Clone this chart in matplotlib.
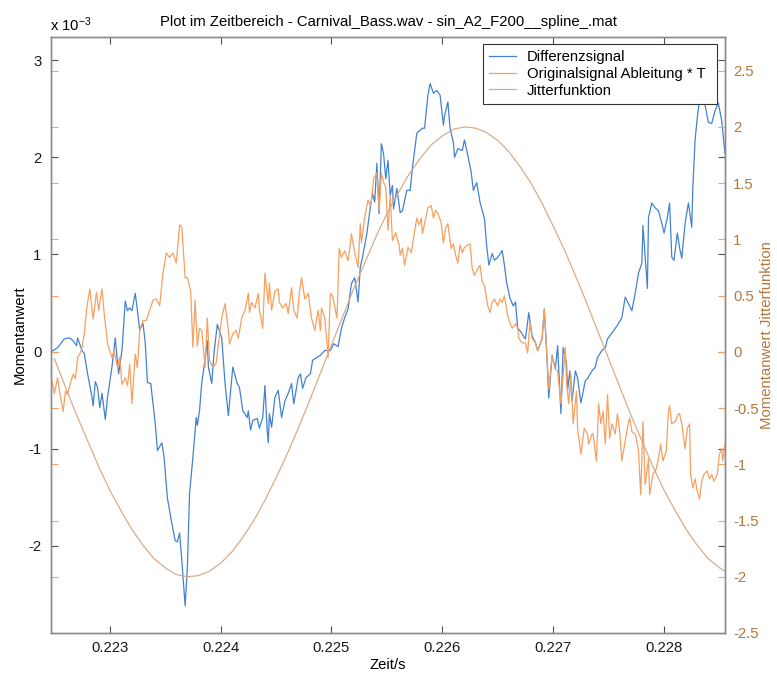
import numpy as np
import matplotlib
matplotlib.use('Agg')
import matplotlib.pyplot as plt
from matplotlib.ticker import FuncFormatter


# Differenzsignal (left axis, values in 1e-3)
t_diff = [
    0.22246, 0.22253, 0.22259, 0.22264, 0.22267, 0.22270, 0.22271, 0.22275, 0.22277, 0.22280,
    0.22284, 0.22285, 0.22287, 0.22289, 0.22291, 0.22293, 0.22295, 0.22296, 0.22298, 0.22302,
    0.22305, 0.22306, 0.22308, 0.22311, 0.22314, 0.22316, 0.22318, 0.22320, 0.22323, 0.22325,
    0.22327, 0.22330, 0.22332, 0.22334, 0.22337, 0.22341, 0.22343, 0.22347, 0.22349, 0.22352,
    0.22356, 0.22359, 0.22361, 0.22363, 0.22365, 0.22368, 0.22370, 0.22372, 0.22375, 0.22378,
    0.22379, 0.22381, 0.22383, 0.22385, 0.22388, 0.22389, 0.22392, 0.22394, 0.22397, 0.22401,
    0.22404, 0.22407, 0.22411, 0.22415, 0.22417, 0.22420, 0.22424, 0.22425, 0.22427, 0.22429,
    0.22433, 0.22435, 0.22438, 0.22440, 0.22442, 0.22443, 0.22444, 0.22446, 0.22449, 0.22452,
    0.22455, 0.22458, 0.22461, 0.22464, 0.22466, 0.22470, 0.22472, 0.22474, 0.22477, 0.22481,
    0.22483, 0.22487, 0.22490, 0.22494, 0.22499, 0.22502, 0.22506, 0.22509, 0.22512, 0.22515,
    0.22518, 0.22521, 0.22524, 0.22526, 0.22528, 0.22532, 0.22535, 0.22537, 0.22539, 0.22541,
    0.22543, 0.22545, 0.22547, 0.22549, 0.22551, 0.22553, 0.22555, 0.22556, 0.22559, 0.22562,
    0.22564, 0.22568, 0.22571, 0.22573, 0.22577, 0.22582, 0.22584, 0.22587, 0.22589, 0.22592,
    0.22595, 0.22598, 0.22601, 0.22602, 0.22605, 0.22607, 0.22610, 0.22611, 0.22614, 0.22618,
    0.22620, 0.22623, 0.22626, 0.22628, 0.22631, 0.22634, 0.22638, 0.22640, 0.22642, 0.22645,
    0.22647, 0.22650, 0.22654, 0.22656, 0.22658, 0.22661, 0.22664, 0.22666, 0.22668, 0.22671,
    0.22673, 0.22675, 0.22678, 0.22681, 0.22684, 0.22686, 0.22690, 0.22692, 0.22694, 0.22696,
    0.22699, 0.22702, 0.22704, 0.22707, 0.22709, 0.22712, 0.22713, 0.22715, 0.22717, 0.22720,
    0.22722, 0.22725, 0.22729, 0.22731, 0.22735, 0.22738, 0.22740, 0.22744, 0.22747, 0.22749,
    0.22753, 0.22756, 0.22758, 0.22762, 0.22765, 0.22768, 0.22771, 0.22774, 0.22777, 0.22780,
    0.22781, 0.22783, 0.22785, 0.22786, 0.22789, 0.22792, 0.22795, 0.22798, 0.22800, 0.22803,
    0.22805, 0.22807, 0.22809, 0.22812, 0.22814, 0.22816, 0.22819, 0.22822, 0.22823, 0.22825,
    0.22826, 0.22828, 0.22830, 0.22832, 0.22835, 0.22840, 0.22843, 0.22846, 0.22849, 0.22852,
    0.22855,
]
diff_e3 = [
    -0.01, 0.04, 0.13, 0.14, 0.11, 0.06, 0.14, 0.01, -0.02, -0.23,
    -0.47, -0.56, -0.31, -0.37, -0.58, -0.43, -0.61, -0.70, -0.47, -0.16,
    0.14, 0.01, -0.23, 0.01, 0.52, 0.42, 0.45, 0.42, 0.60, 0.42,
    0.22, 0.29, 0.09, -0.32, -0.33, -0.74, -1.02, -0.94, -1.09, -1.51,
    -1.77, -1.95, -1.96, -1.87, -2.15, -2.62, -2.23, -1.46, -1.09, -0.68,
    -0.76, -0.61, -0.32, -0.16, 0.11, -0.16, -0.33, -0.02, 0.28, 0.14,
    -0.33, -0.66, -0.16, -0.33, -0.37, -0.61, -0.68, -0.61, -0.81, -0.71,
    -0.69, -0.79, -0.68, -0.35, -0.81, -0.94, -0.64, -0.78, -0.47, -0.40,
    -0.68, -0.51, -0.43, -0.33, -0.54, -0.27, -0.23, -0.38, -0.27, -0.23,
    -0.09, -0.06, -0.04, 0.01, 0.01, 0.08, 0.05, 0.24, 0.35, 0.44,
    0.70, 0.76, 0.51, 0.87, 0.97, 1.22, 1.48, 1.63, 1.54, 1.94,
    1.42, 2.14, 2.04, 1.78, 1.97, 1.61, 1.71, 1.47, 1.68, 1.43,
    1.45, 1.66, 1.66, 1.89, 2.25, 2.30, 2.30, 2.64, 2.76, 2.66,
    2.69, 2.64, 2.33, 2.43, 2.57, 2.30, 2.15, 2.00, 2.09, 2.07,
    2.18, 2.02, 1.85, 1.66, 1.74, 1.54, 1.37, 1.09, 0.89, 1.01,
    0.94, 0.97, 1.04, 0.89, 0.71, 0.55, 0.47, 0.51, 0.24, 0.20,
    0.16, 0.13, 0.40, 0.16, 0.09, 0.01, 0.13, 0.44, 0.03, -0.48,
    -0.04, -0.18, 0.06, -0.64, 0.04, -0.12, -0.40, -0.20, -0.51, -0.20,
    -0.27, -0.53, -0.30, -0.28, -0.20, -0.16, -0.06, 0.01, 0.04, 0.13,
    0.19, 0.24, 0.27, 0.35, 0.56, 0.49, 0.42, 0.60, 0.81, 0.91,
    1.30, 0.97, 0.65, 1.38, 1.53, 1.48, 1.45, 1.32, 1.22, 1.38,
    1.53, 0.97, 0.94, 1.22, 1.07, 0.96, 1.32, 1.53, 1.45, 1.28,
    1.69, 2.18, 2.41, 2.59, 2.66, 2.36, 2.35, 2.48, 2.56, 2.38,
    2.04,
]

# Originalsignal Ableitung * T (right axis)
t_orig = [
    0.22246, 0.22248, 0.22250, 0.22253, 0.22255, 0.22258, 0.22260, 0.22262, 0.22265, 0.22267,
    0.22269, 0.22271, 0.22273, 0.22275, 0.22277, 0.22279, 0.22282, 0.22285, 0.22288, 0.22290,
    0.22293, 0.22295, 0.22298, 0.22302, 0.22304, 0.22307, 0.22309, 0.22311, 0.22314, 0.22316,
    0.22318, 0.22320, 0.22323, 0.22325, 0.22327, 0.22330, 0.22333, 0.22336, 0.22339, 0.22342,
    0.22345, 0.22348, 0.22351, 0.22354, 0.22357, 0.22360, 0.22363, 0.22365, 0.22368, 0.22370,
    0.22373, 0.22375, 0.22377, 0.22379, 0.22381, 0.22383, 0.22386, 0.22388, 0.22390, 0.22393,
    0.22396, 0.22398, 0.22401, 0.22404, 0.22407, 0.22408, 0.22411, 0.22414, 0.22416, 0.22419,
    0.22422, 0.22425, 0.22426, 0.22428, 0.22431, 0.22434, 0.22435, 0.22438, 0.22440, 0.22443,
    0.22444, 0.22446, 0.22449, 0.22452, 0.22453, 0.22456, 0.22459, 0.22461, 0.22464, 0.22466,
    0.22469, 0.22471, 0.22473, 0.22476, 0.22479, 0.22482, 0.22485, 0.22488, 0.22490, 0.22491,
    0.22494, 0.22497, 0.22499, 0.22501, 0.22505, 0.22507, 0.22509, 0.22512, 0.22515, 0.22517,
    0.22518, 0.22521, 0.22524, 0.22526, 0.22527, 0.22530, 0.22533, 0.22535, 0.22536, 0.22538,
    0.22541, 0.22543, 0.22545, 0.22547, 0.22549, 0.22551, 0.22553, 0.22555, 0.22558, 0.22561,
    0.22562, 0.22564, 0.22566, 0.22569, 0.22572, 0.22574, 0.22577, 0.22579, 0.22581, 0.22582,
    0.22585, 0.22587, 0.22590, 0.22592, 0.22594, 0.22596, 0.22599, 0.22601, 0.22603, 0.22605,
    0.22608, 0.22610, 0.22612, 0.22614, 0.22616, 0.22618, 0.22620, 0.22623, 0.22625, 0.22627,
    0.22629, 0.22632, 0.22634, 0.22636, 0.22638, 0.22641, 0.22643, 0.22645, 0.22647, 0.22650,
    0.22652, 0.22654, 0.22656, 0.22659, 0.22661, 0.22663, 0.22666, 0.22668, 0.22669, 0.22672,
    0.22675, 0.22677, 0.22679, 0.22681, 0.22684, 0.22686, 0.22690, 0.22692, 0.22694, 0.22696,
    0.22699, 0.22702, 0.22704, 0.22707, 0.22711, 0.22712, 0.22714, 0.22716, 0.22718, 0.22721,
    0.22722, 0.22725, 0.22728, 0.22731, 0.22732, 0.22735, 0.22736, 0.22739, 0.22741, 0.22743,
    0.22745, 0.22747, 0.22749, 0.22751, 0.22753, 0.22756, 0.22758, 0.22760, 0.22762, 0.22765,
    0.22768, 0.22769, 0.22771, 0.22774, 0.22777, 0.22778, 0.22779, 0.22781, 0.22783, 0.22786,
    0.22787, 0.22790, 0.22793, 0.22795, 0.22797, 0.22799, 0.22802, 0.22804, 0.22805, 0.22807,
    0.22810, 0.22813, 0.22814, 0.22816, 0.22819, 0.22821, 0.22823, 0.22824, 0.22826, 0.22828,
    0.22830, 0.22832, 0.22834, 0.22836, 0.22839, 0.22841, 0.22843, 0.22845, 0.22848, 0.22850,
    0.22852, 0.22853, 0.22855,
]
orig_deriv = [
    -0.44, -0.26, -0.37, -0.23, -0.37, -0.53, -0.35, -0.38, -0.26, -0.20,
    -0.24, -0.05, -0.02, 0.04, 0.16, 0.37, 0.56, 0.29, 0.53, 0.37,
    0.56, 0.34, 0.07, -0.05, 0.01, -0.14, -0.05, -0.29, -0.23, -0.30,
    -0.11, -0.46, -0.02, -0.14, 0.19, 0.28, 0.28, 0.37, 0.46, 0.47,
    0.41, 0.70, 0.88, 0.84, 0.88, 0.79, 1.13, 1.11, 0.66, 0.66,
    0.54, 0.04, 0.46, 0.05, 0.21, 0.19, -0.14, 0.30, -0.08, -0.14,
    -0.10, 0.07, 0.30, 0.43, 0.19, 0.07, 0.16, 0.19, 0.12, 0.30,
    0.37, 0.52, 0.35, 0.44, 0.39, 0.52, 0.37, 0.21, 0.70, 0.43,
    0.61, 0.37, 0.54, 0.56, 0.44, 0.39, 0.43, 0.34, 0.57, 0.37,
    0.30, 0.52, 0.66, 0.47, 0.52, 0.30, 0.19, 0.37, 0.19, 0.39,
    0.30, -0.05, 0.52, 0.50, 0.30, 0.92, 0.84, 0.90, 0.81, 0.96,
    1.05, 0.88, 0.75, 1.14, 0.97, 1.20, 1.35, 1.30, 1.33, 1.54,
    1.59, 1.26, 1.59, 1.51, 1.46, 1.08, 1.39, 0.99, 1.06, 0.95,
    0.86, 0.92, 0.77, 0.93, 0.88, 1.01, 1.19, 1.13, 1.19, 1.05,
    1.19, 1.28, 1.30, 1.19, 1.26, 1.23, 1.15, 0.97, 1.10, 1.14,
    0.92, 0.96, 0.86, 0.79, 0.95, 0.88, 0.93, 0.95, 0.96, 0.74,
    0.68, 0.74, 0.77, 0.62, 0.59, 0.41, 0.35, 0.44, 0.47, 0.41,
    0.47, 0.44, 0.50, 0.32, 0.26, 0.21, 0.25, 0.21, 0.12, 0.08,
    0.08, -0.01, 0.26, 0.12, 0.08, 0.01, 0.12, 0.38, 0.03, -0.33,
    -0.04, -0.15, -0.17, -0.46, 0.04, -0.26, -0.46, -0.20, -0.64, -0.35,
    -0.68, -0.91, -0.68, -0.73, -0.82, -0.73, -0.73, -0.97, -0.46, -0.64,
    -0.53, -0.82, -0.38, -0.77, -0.64, -0.73, -0.55, -0.71, -0.97, -0.79,
    -0.62, -0.59, -0.71, -0.73, -0.88, -1.09, -1.27, -0.62, -1.18, -0.95,
    -1.27, -1.09, -1.04, -0.95, -0.82, -0.97, -0.88, -0.53, -0.48, -0.64,
    -0.62, -0.55, -0.55, -0.64, -0.86, -0.68, -0.64, -1.09, -1.21, -1.13,
    -1.24, -1.31, -1.15, -1.09, -1.06, -1.13, -1.09, -1.15, -1.09, -0.91,
    -0.86, -0.97, -0.82,
]

# Jitterfunktion (right axis)
t_jitter = [
    0.2225, 0.2226, 0.2227, 0.2228, 0.2229, 0.2230, 0.2231, 0.2232, 0.2233, 0.2234,
    0.2235, 0.2236, 0.2237, 0.2238, 0.2239, 0.2240, 0.2241, 0.2242, 0.2243, 0.2244,
    0.2245, 0.2246, 0.2247, 0.2248, 0.2249, 0.2250, 0.2251, 0.2252, 0.2253, 0.2254,
    0.2255, 0.2256, 0.2257, 0.2258, 0.2259, 0.2260, 0.2261, 0.2262, 0.2263, 0.2264,
    0.2265, 0.2266, 0.2267, 0.2268, 0.2269, 0.2270, 0.2271, 0.2272, 0.2273, 0.2274,
    0.2275, 0.2276, 0.2277, 0.2278, 0.2279, 0.2280, 0.2281, 0.2282, 0.2283, 0.2284,
    0.2285, 0.2286,
]
jitter = [
    -0.06, -0.31, -0.56, -0.79, -1.02, -1.23, -1.41, -1.58, -1.72, -1.84,
    -1.92, -1.98, -2.00, -1.99, -1.95, -1.88, -1.78, -1.65, -1.50, -1.32,
    -1.12, -0.91, -0.68, -0.44, -0.19, 0.06, 0.31, 0.56, 0.79, 1.02,
    1.23, 1.41, 1.58, 1.72, 1.84, 1.92, 1.98, 2.00, 1.99, 1.95,
    1.88, 1.78, 1.65, 1.50, 1.32, 1.12, 0.91, 0.68, 0.44, 0.19,
    -0.06, -0.31, -0.56, -0.79, -1.02, -1.23, -1.41, -1.58, -1.72, -1.84,
    -1.92, -1.98,
]

x_ticks = [0.223, 0.224, 0.225, 0.226, 0.227, 0.228]
left_ticks = [-2e-3, -1e-3, 0.0, 1e-3, 2e-3, 3e-3]
right_ticks = [-2.5, -2, -1.5, -1, -0.5, 0, 0.5, 1, 1.5, 2, 2.5]

plt.rcParams['font.family'] = ['Liberation Sans', 'DejaVu Sans']
plt.rcParams['font.size'] = 10.7

c_blue = '#4382cf'
c_orange = '#f7a060'
c_jitter = '#d6a884'
c_right = '#b5763c'
c_spine = '#8a8a8a'

fig = plt.figure(figsize=(7.77, 6.74), dpi=100)
ax = fig.add_axes([51 / 777, 41 / 674, 674 / 777, 596 / 674])
ax2 = ax.twinx()

l1, = ax.plot(t_diff, np.array(diff_e3) * 1e-3, color=c_blue, lw=0.9)
l2, = ax2.plot(t_orig, orig_deriv, color=c_orange, lw=0.9)
l3, = ax2.plot(t_jitter, jitter, color=c_jitter, lw=0.85)

ax.set_xlim(0.22247, 0.22855)
ax.set_ylim(-2.9e-3, 3.24e-3)
ax2.set_ylim(-2.5, 2.8)

ax.set_xticks(x_ticks)
ax.xaxis.set_major_formatter(FuncFormatter(lambda v, p: '%.3f' % v))
ax.set_yticks(left_ticks)
ax.yaxis.set_major_formatter(FuncFormatter(lambda v, p: '%g' % round(v * 1e3, 6)))
ax2.set_yticks(right_ticks)
ax2.yaxis.set_major_formatter(FuncFormatter(lambda v, p: '%g' % v))

ax.tick_params(axis='both', direction='in', length=5, width=0.8,
               color='#4d4d4d', labelcolor='#1a1a1a', top=True, right=True)
ax.tick_params(axis='x', pad=6)
ax.tick_params(axis='y', pad=7)
ax2.tick_params(axis='y', direction='in', length=5, width=0.8, left=True, right=True,
                labelleft=False, labelright=True, color=c_orange, labelcolor=c_right, pad=6)

for a in (ax, ax2):
    for s in a.spines.values():
        s.set_color(c_spine)
        s.set_linewidth(1.0)

ax.set_title('Plot im Zeitbereich - Carnival_Bass.wav - sin_A2_F200__spline_.mat',
             fontsize=10.7, pad=8)
ax.annotate(r'x $\mathregular{10^{-3}}$', xy=(0, 1), xycoords='axes fraction',
            xytext=(-1, 2), textcoords='offset points', ha='left', va='bottom')

ax.set_xlabel('Zeit/s', labelpad=2)
ax.set_ylabel('Momentanwert')
ax.yaxis.set_label_coords(-24 / 674, 0.5)
ax2.set_ylabel('Momentanwert Jitterfunktion', color=c_right)
ax2.yaxis.set_label_coords(1 + 35 / 674, 0.5)

# legend box stretched to a fixed width in the upper right corner
leg = ax2.legend([l1, l2, l3],
                 ['Differenzsignal', 'Originalsignal Ableitung * T', 'Jitterfunktion'],
                 loc='upper left', mode='expand',
                 bbox_to_anchor=((483 - 51) / 674, 1 - 7 / 596, 234 / 674, 0.0),
                 borderaxespad=0, fancybox=False, framealpha=1, edgecolor='#333333',
                 handlelength=1.8, handletextpad=0.75, labelspacing=0.18, borderpad=0.42)
leg.get_frame().set_linewidth(0.8)

fig.savefig('out.png', dpi=100)
